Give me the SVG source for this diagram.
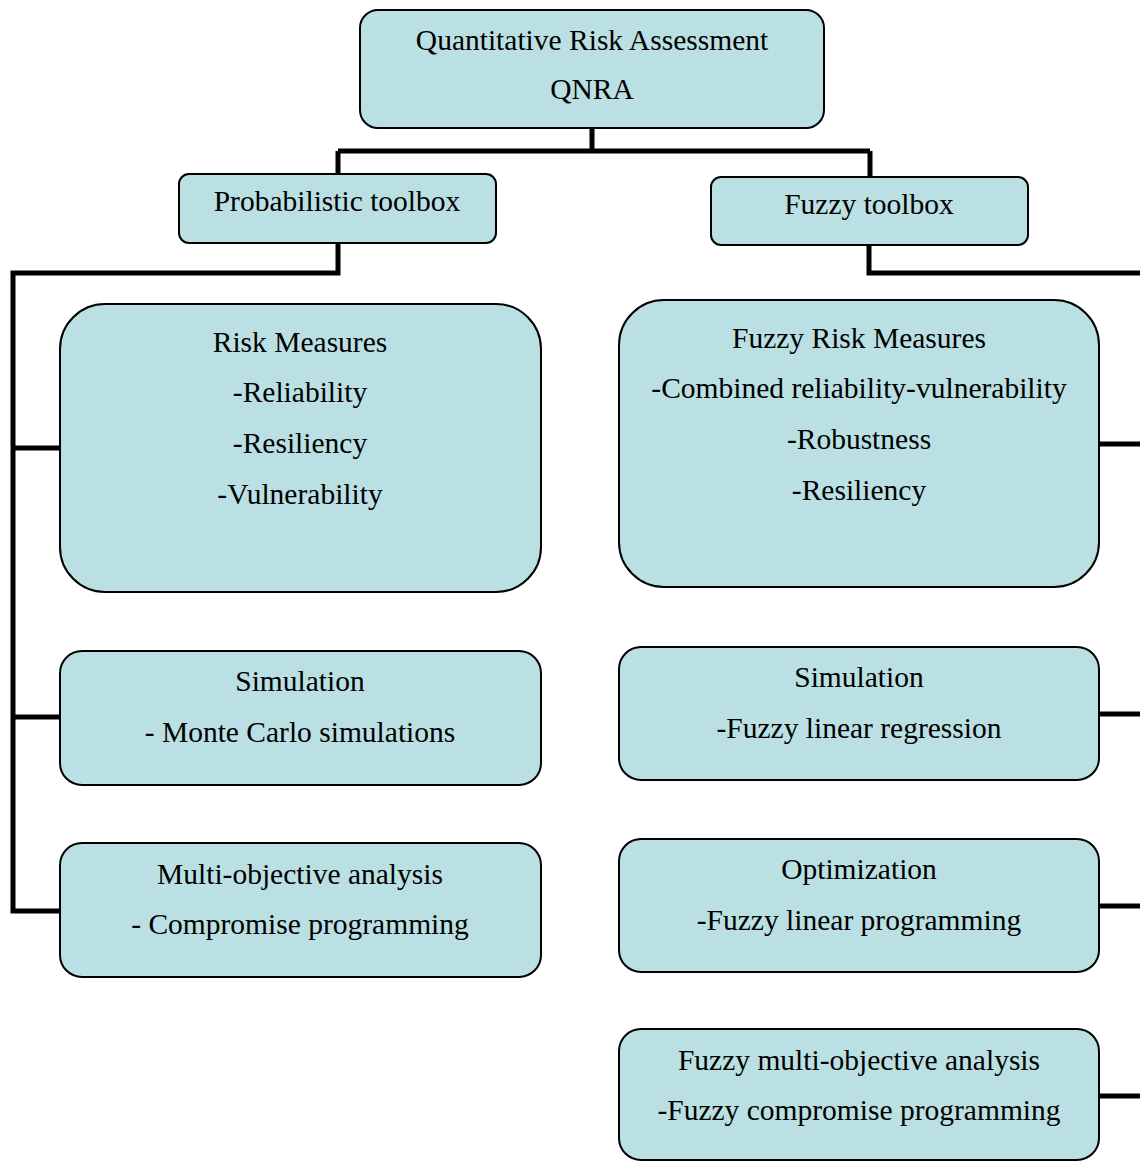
<svg xmlns="http://www.w3.org/2000/svg" width="1140" height="1161" viewBox="0 0 1140 1161">
<style>
.box{fill:#bae0e3;stroke:#000;stroke-width:2}
.t{font-family:"Liberation Serif","Times New Roman",serif;font-size:29.5px;fill:#000;text-anchor:middle}
.c{fill:none;stroke:#000;stroke-width:5;stroke-linejoin:miter;stroke-linecap:butt}
</style>
<rect width="1140" height="1161" fill="#fff"/>
<g id="connectors">
<path class="c" d="M592,128 V151 M338,151 H870 M338,151 V174 M870,151 V177"/>
<path class="c" d="M338,243 V273 H13 V911 H60 M13,448 H60 M13,717 H60"/>
<path class="c" d="M869,245 V273 H1140 M1099,444 H1140 M1099,714 H1140 M1099,906 H1140 M1099,1096 H1140"/>
</g>
<g id="qnra"><rect class="box" x="360" y="10" width="464" height="118" rx="18"/>
<text class="t" x="592" y="50">Quantitative Risk Assessment</text><text class="t" x="592" y="99">QNRA</text></g>
<g id="prob"><rect class="box" x="179" y="174" width="317" height="69" rx="10"/>
<text class="t" x="337" y="211">Probabilistic toolbox</text></g>
<g id="fuzzy"><rect class="box" x="711" y="177" width="317" height="68" rx="10"/>
<text class="t" x="869" y="214">Fuzzy toolbox</text></g>
<g id="risk"><rect class="box" x="60" y="304" width="481" height="288" rx="45"/>
<text class="t" x="300" y="352">Risk Measures</text><text class="t" x="300" y="402">-Reliability</text><text class="t" x="300" y="453">-Resiliency</text><text class="t" x="300" y="504">-Vulnerability</text></g>
<g id="fuzzyrisk"><rect class="box" x="619" y="300" width="480" height="287" rx="45"/>
<text class="t" x="859" y="348">Fuzzy Risk Measures</text><text class="t" x="859" y="398">-Combined reliability-vulnerability</text><text class="t" x="859" y="449">-Robustness</text><text class="t" x="859" y="500">-Resiliency</text></g>
<g id="sim1"><rect class="box" x="60" y="651" width="481" height="134" rx="22"/>
<text class="t" x="300" y="691">Simulation</text><text class="t" x="300" y="742">- Monte Carlo simulations</text></g>
<g id="multi"><rect class="box" x="60" y="843" width="481" height="134" rx="22"/>
<text class="t" x="300" y="884">Multi-objective analysis</text><text class="t" x="300" y="934">- Compromise programming</text></g>
<g id="sim2"><rect class="box" x="619" y="647" width="480" height="133" rx="22"/>
<text class="t" x="859" y="687">Simulation</text><text class="t" x="859" y="738">-Fuzzy linear regression</text></g>
<g id="opt"><rect class="box" x="619" y="839" width="480" height="133" rx="22"/>
<text class="t" x="859" y="879">Optimization</text><text class="t" x="859" y="930">-Fuzzy linear programming</text></g>
<g id="fmulti"><rect class="box" x="619" y="1029" width="480" height="131" rx="22"/>
<text class="t" x="859" y="1070">Fuzzy multi-objective analysis</text><text class="t" x="859" y="1120">-Fuzzy compromise programming</text></g>
</svg>
